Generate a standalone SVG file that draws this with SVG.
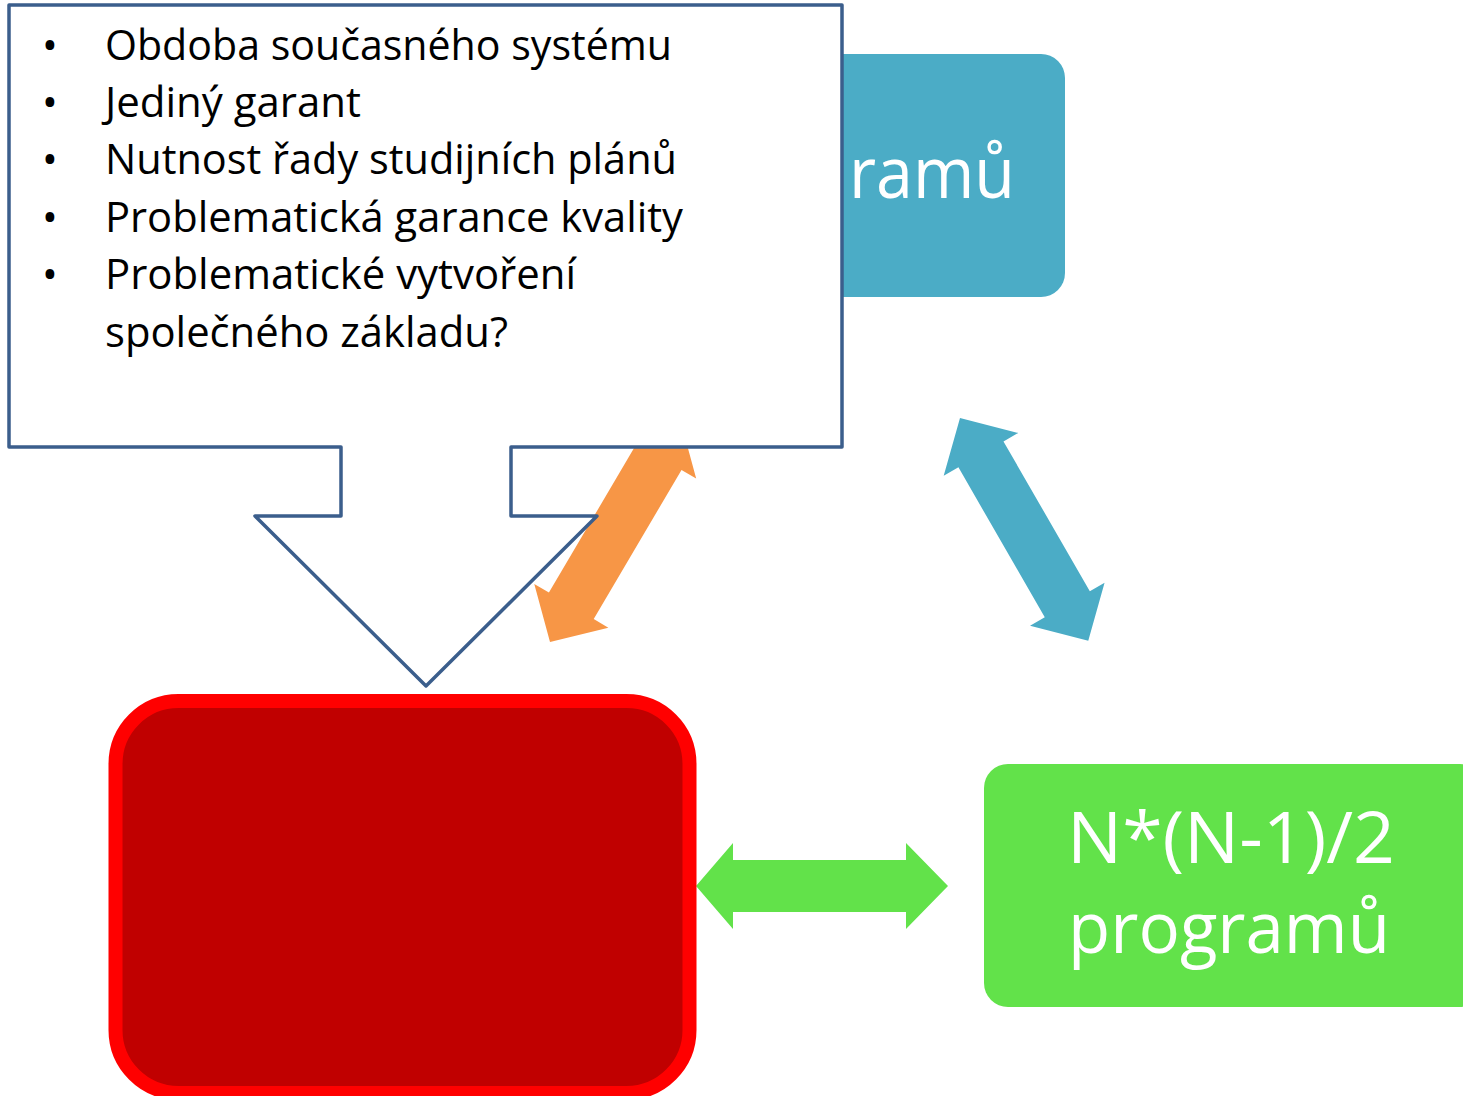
<svg xmlns="http://www.w3.org/2000/svg" width="1463" height="1096" viewBox="0 0 1463 1096">
  <style>
    .t { font-family: "Open Sans", "Noto Sans", "Liberation Sans", sans-serif; }
    .big { font-size: 72px; fill: #FFFFFF; }
    .li { font-size: 42px; fill: #000000; }
    .callout { fill: #FFFFFF; stroke: #3B5E8C; stroke-width: 3.5; stroke-linejoin: round; }
  </style>
  <defs>
    <polygon id="dbl" points="0,0 42,-43 42,-26 215,-26 215,-43 257,0 215,43 215,26 42,26 42,43"/>
  </defs>
  <rect width="1463" height="1096" fill="#FFFFFF"/>

  <g id="node-blue">
    <rect x="620" y="54" width="445" height="243" rx="24" fill="#4BACC6"/>
    <text class="t big" x="849" y="198" textLength="166" lengthAdjust="spacingAndGlyphs">ramů</text>
  </g>

  <g id="connectors">
    <use href="#dbl" fill="#F79646" transform="translate(550,642) rotate(-59.5)"/>
    <use href="#dbl" fill="#4BACC6" transform="translate(960,418) rotate(60.06)"/>
    <polygon fill="#62E24A" points="696,886 733,843 733,860 906,860 906,843 948,886 906,929 906,912 733,912 733,929"/>
  </g>

  <g id="node-callout">
    <path class="callout" d="M9,5 H842 V447 H511 V516 H597 L426,686 L255,516 H341 V447 H9 Z"/>
    <g class="t li">
      <text x="42" y="60">•</text>
      <text x="105" y="60" textLength="567" lengthAdjust="spacingAndGlyphs">Obdoba současného systému</text>
      <text x="42" y="117">•</text>
      <text x="105" y="117" textLength="256" lengthAdjust="spacingAndGlyphs">Jediný garant</text>
      <text x="42" y="174">•</text>
      <text x="105" y="174" textLength="572" lengthAdjust="spacingAndGlyphs">Nutnost řady studijních plánů</text>
      <text x="42" y="232">•</text>
      <text x="105" y="232" textLength="578" lengthAdjust="spacingAndGlyphs">Problematická garance kvality</text>
      <text x="42" y="289">•</text>
      <text x="105" y="289" textLength="471" lengthAdjust="spacingAndGlyphs">Problematické vytvoření</text>
      <text x="105" y="347" textLength="403" lengthAdjust="spacingAndGlyphs">společného základu?</text>
    </g>
  </g>

  <g id="node-red">
    <rect x="115.5" y="701" width="574" height="392" rx="63" fill="#C00000" stroke="#FF0000" stroke-width="14"/>
  </g>

  <g id="node-green">
    <rect x="984" y="764" width="500" height="243" rx="24" fill="#62E24A"/>
    <text class="t big" x="1067" y="863" textLength="328" lengthAdjust="spacingAndGlyphs">N*(N-1)/2</text>
    <text class="t big" x="1068" y="953" textLength="322" lengthAdjust="spacingAndGlyphs">programů</text>
  </g>
</svg>
